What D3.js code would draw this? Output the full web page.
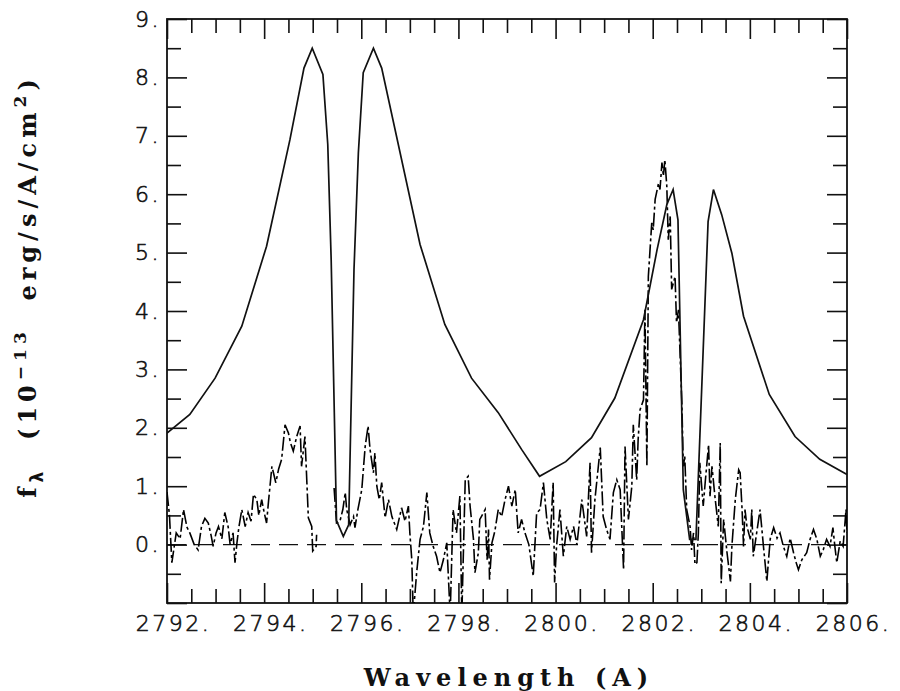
<!DOCTYPE html>
<html>
<head>
<meta charset="utf-8">
<script src="https://cdn.jsdelivr.net/npm/d3@7"></script>
<style>
  body { margin: 0; background: #fff; }
  svg { display: block; }
  .tick text { font-family: "DejaVu Sans", sans-serif; font-weight: 200; font-size: 22px; letter-spacing: 2.5px; fill: #111; stroke: #111; stroke-width: 0.6px; }
  .tick line { stroke: #111; stroke-width: 1.6; }
  .title { font-family: "DejaVu Serif", serif; font-weight: bold; fill: #111; }
</style>
</head>
<body>
<div id="chart"></div>
<script>
// model profile (solid)
const modelWave = [2792.00, 2792.47, 2792.99, 2793.54, 2794.05, 2794.53, 2794.82, 2794.99, 2795.21, 2795.31,
	2795.38, 2795.49, 2795.63, 2795.74, 2795.85, 2795.94, 2796.04, 2796.25, 2796.42, 2797.21,
	2797.72, 2798.27, 2798.82, 2799.30, 2799.67, 2800.21, 2800.74, 2801.22, 2801.81, 2802.09,
	2802.29, 2802.42, 2802.52, 2802.63, 2802.76, 2802.89, 2803.14, 2803.25, 2803.42, 2803.63,
	2803.87, 2804.40, 2804.93, 2805.44, 2806.00];
const modelFlux = [1.91, 2.23, 2.85, 3.74, 5.11, 6.93, 8.16, 8.50, 8.05, 6.85,
	4.88, 0.41, 0.14, 0.34, 4.71, 6.71, 8.08, 8.50, 8.16, 5.14,
	3.77, 2.85, 2.26, 1.63, 1.17, 1.42, 1.83, 2.51, 3.85, 5.05,
	5.82, 6.08, 5.56, 0.94, 0.09, 0.09, 5.53, 6.08, 5.65, 4.99,
	3.91, 2.57, 1.85, 1.46, 1.20];

// observed spectrum (dash-dot), [wavelength, flux]; null = no data
const observed = [
	[2792.00,0.9],[2792.05,0.51],[2792.10,-0.31],[2792.19,0.2],[2792.27,0.1],[2792.34,0.6],[2792.41,0.3],[2792.47,0.2],
	[2792.56,0.0],[2792.64,-0.09],[2792.71,0.31],[2792.78,0.45],[2792.85,0.37],[2792.91,0.15],[2792.95,-0.03],[2793.01,0.2],
	[2793.06,0.31],[2793.13,0.1],[2793.19,0.55],[2793.26,0.3],[2793.30,0.0],[2793.36,0.2],[2793.40,-0.31],[2793.44,0.03],
	[2793.48,0.3],[2793.54,0.6],[2793.61,0.31],[2793.67,0.55],[2793.73,0.4],[2793.78,0.86],[2793.85,0.77],[2793.89,0.5],
	[2793.95,0.77],[2794.00,0.55],[2794.05,0.37],[2794.09,0.74],[2794.16,1.34],[2794.24,1.06],[2794.30,1.3],[2794.36,1.46],
	[2794.43,2.05],[2794.50,1.91],[2794.54,1.75],[2794.60,1.6],[2794.67,1.85],[2794.74,2.03],[2794.77,1.34],[2794.84,1.85],
	[2794.88,1.06],[2794.91,0.46],[2794.98,0.31],[2795.00,-0.11],[2795.07,-0.03],[2795.08,0.17],
	null,
	[2795.44,0.97],[2795.49,0.37],[2795.56,0.4],[2795.62,0.6],[2795.67,0.89],[2795.70,0.6],[2795.77,0.34],[2795.84,0.48],
	[2795.87,0.29],[2795.93,0.6],[2796.01,0.94],[2796.08,1.68],[2796.14,2.03],[2796.18,1.63],[2796.25,1.23],[2796.28,1.57],
	[2796.32,1.0],[2796.37,0.77],[2796.42,1.06],[2796.49,0.46],[2796.56,0.77],[2796.63,0.48],[2796.73,0.26],[2796.83,0.63],
	[2796.90,0.4],[2796.97,0.66],[2797.00,0.2],[2797.04,-0.26],[2797.07,-1.2],[2797.14,-0.48],[2797.21,0.09],[2797.28,0.31],
	[2797.35,0.89],[2797.41,0.2],[2797.48,-0.03],[2797.55,-0.2],[2797.62,-0.48],[2797.69,-0.26],[2797.76,0.03],[2797.83,-1.2],
	[2797.89,0.6],[2797.96,0.2],[2798.03,0.83],[2798.07,-1.2],[2798.14,1.11],[2798.20,1.17],[2798.24,0.66],[2798.31,0.09],
	[2798.34,-0.48],[2798.41,-0.14],[2798.44,0.43],[2798.55,0.6],[2798.59,-0.26],[2798.62,0.26],[2798.64,-0.6],[2798.69,0.03],
	[2798.75,0.23],[2798.82,0.6],[2798.89,0.48],[2798.96,0.77],[2799.03,1.0],[2799.10,0.66],[2799.17,0.94],[2799.23,0.2],
	[2799.30,0.43],[2799.37,0.2],[2799.45,0.0],[2799.54,-0.54],[2799.61,0.54],[2799.68,0.6],[2799.75,1.06],[2799.82,0.43],
	[2799.89,0.09],[2799.95,1.06],[2799.98,-0.65],[2800.02,-0.03],[2800.09,0.6],[2800.16,-0.2],[2800.23,0.31],[2800.30,0.09],
	[2800.37,0.31],[2800.44,0.0],[2800.54,0.77],[2800.64,0.14],[2800.71,1.4],[2800.74,-0.14],[2800.81,0.77],[2800.92,1.66],
	[2800.98,0.48],[2801.05,0.26],[2801.12,0.09],[2801.19,0.89],[2801.26,1.11],[2801.33,0.94],[2801.40,-0.43],[2801.43,1.68],
	[2801.50,0.43],[2801.57,1.0],[2801.60,2.05],[2801.67,1.11],[2801.70,1.8],[2801.74,2.31],[2801.81,2.48],[2801.84,4.02],
	[2801.88,1.34],[2801.91,4.59],[2801.98,5.51],[2802.01,5.39],[2802.05,5.91],[2802.12,6.19],[2802.15,6.08],[2802.19,6.54],
	[2802.22,6.31],[2802.25,6.59],[2802.29,6.14],[2802.32,5.22],[2802.36,5.62],[2802.39,4.37],[2802.46,4.59],[2802.49,3.8],
	[2802.53,4.02],[2802.56,3.34],[2802.60,2.43],[2802.63,1.34],[2802.66,1.51],[2802.70,0.6],[2802.77,0.31],[2802.80,-0.09],
	[2802.84,0.2],[2802.87,-0.34],[2802.91,-0.31],[2802.94,0.2],[2802.97,1.4],[2803.04,0.66],[2803.08,1.06],[2803.15,1.71],
	[2803.18,0.83],[2803.22,1.34],[2803.28,0.83],[2803.35,0.31],[2803.39,1.74],[2803.41,-0.66],[2803.46,0.43],[2803.53,-0.14],
	[2803.60,-0.63],[2803.63,-0.03],[2803.70,0.77],[2803.77,1.28],[2803.80,1.23],[2803.84,0.6],[2803.87,-0.03],[2803.90,0.6],
	[2803.94,0.31],[2804.01,0.09],[2804.04,0.6],[2804.07,-0.2],[2804.14,0.2],[2804.21,0.6],[2804.28,-0.03],[2804.35,-0.63],
	[2804.38,-0.31],[2804.42,0.1],[2804.49,0.29],[2804.56,0.11],[2804.62,0.2],[2804.69,-0.03],[2804.76,-0.2],[2804.83,0.11],
	[2804.90,-0.14],[2804.95,-0.3],[2805.00,-0.43],[2805.07,-0.26],[2805.12,-0.2],[2805.17,-0.14],[2805.24,0.09],[2805.31,0.26],
	[2805.38,0.09],[2805.45,-0.2],[2805.51,-0.09],[2805.58,0.09],[2805.65,-0.03],[2805.71,0.29],[2805.75,-0.03],[2805.79,-0.31],
	[2805.86,0.06],[2805.92,-0.03],[2805.98,0.6],[2806.00,0.2]
];

const xMajor = [2792, 2794, 2796, 2798, 2800, 2802, 2804, 2806];
const yMajor = [-1, 0, 1, 2, 3, 4, 5, 6, 7, 8, 9];
const xLabel = "Wavelength (A)";

const width = 900, height = 691;
const mLeft = 167, mRight = 847, mTop = 19, mBottom = 603;

let svg = d3.select("#chart").append("svg")
	.attr("width", width)
	.attr("height", height);

let x = d3.scaleLinear().domain([2792, 2806]).range([mLeft, mRight]);
let y = d3.scaleLinear().domain([-1, 9]).range([mBottom, mTop]);

let xMinor = d3.range(2792, 2806.01, 0.5).filter((v) => !xMajor.includes(v));
let yMinor = d3.range(-1, 9.01, 0.5).filter((v) => !yMajor.includes(v));

svg.append("clipPath").attr("id", "plot-clip")
	.append("rect")
	.attr("x", mLeft).attr("y", mTop)
	.attr("width", mRight - mLeft).attr("height", mBottom - mTop);

// ticks, all pointing inward
function drawAxis(axis, tx, ty, withText) {
	let g = svg.append("g")
		.attr("transform", "translate(" + tx + "," + ty + ")")
		.call(axis);
	g.select(".domain").remove();
	if (!withText) g.selectAll("text").remove();
	return g;
}

let xb = drawAxis(d3.axisBottom(x).tickValues(xMajor).tickSize(-20).tickPadding(12)
	.tickFormat((d) => d + "."), 0, mBottom, true);
xb.selectAll("text").attr("dx", 6);
drawAxis(d3.axisBottom(x).tickValues(xMinor).tickSize(-14), 0, mBottom, false);
drawAxis(d3.axisTop(x).tickValues(xMajor).tickSize(-20), 0, mTop, false);
drawAxis(d3.axisTop(x).tickValues(xMinor).tickSize(-14), 0, mTop, false);

drawAxis(d3.axisLeft(y).tickValues(yMajor).tickSize(-20).tickPadding(6)
	.tickFormat((d) => (d < 0 ? "" : d + ".")), mLeft, 0, true);
drawAxis(d3.axisLeft(y).tickValues(yMinor).tickSize(-14), mLeft, 0, false);
drawAxis(d3.axisRight(y).tickValues(yMajor).tickSize(-20), mRight, 0, false);
drawAxis(d3.axisRight(y).tickValues(yMinor).tickSize(-14), mRight, 0, false);

svg.append("rect")
	.attr("x", mLeft).attr("y", mTop)
	.attr("width", mRight - mLeft).attr("height", mBottom - mTop)
	.attr("fill", "none")
	.attr("stroke", "#111")
	.attr("stroke-width", 1.8);

let plot = svg.append("g").attr("clip-path", "url(#plot-clip)");

// zero level
plot.append("line")
	.attr("x1", x(2792)).attr("x2", x(2806))
	.attr("y1", y(0)).attr("y2", y(0))
	.attr("stroke", "#111")
	.attr("stroke-width", 1.4)
	.attr("stroke-dasharray", "19,9");

let obsLine = d3.line()
	.defined((d) => d !== null)
	.x((d) => x(d[0]))
	.y((d) => y(d[1]));

plot.append("path")
	.attr("d", obsLine(observed))
	.attr("fill", "none")
	.attr("stroke", "#000")
	.attr("stroke-width", 1.6)
	.attr("stroke-dasharray", "14,3,3,3");

let modelLine = d3.line()
	.x((d, i) => x(modelWave[i]))
	.y((d) => y(d));

plot.append("path")
	.attr("d", modelLine(modelFlux))
	.attr("fill", "none")
	.attr("stroke", "#111")
	.attr("stroke-width", 1.7);

// axis titles
svg.append("text")
	.attr("class", "title")
	.attr("x", (mLeft + mRight) / 2 + 2)
	.attr("y", 686)
	.attr("text-anchor", "middle")
	.style("font-size", "24px")
	.style("letter-spacing", "6px")
	.text(xLabel);

let yt = svg.append("text")
	.attr("class", "title")
	.attr("transform", "translate(36,286) rotate(-90)")
	.attr("text-anchor", "middle")
	.style("font-size", "24px")
	.style("letter-spacing", "5px");
yt.append("tspan").text("f");
yt.append("tspan").attr("dy", 7).style("font-size", "17px").style("font-family", "DejaVu Sans").text("λ");
yt.append("tspan").attr("dy", -7).text("\u00a0\u00a0(10");
yt.append("tspan").attr("dy", -10).style("font-size", "17px").text("\u221213");
yt.append("tspan").attr("dy", 10).text("\u00a0\u00a0erg/s/A/cm");
yt.append("tspan").attr("dy", -10).style("font-size", "17px").text("2");
yt.append("tspan").attr("dy", 10).text(")");
</script>
</body>
</html>
